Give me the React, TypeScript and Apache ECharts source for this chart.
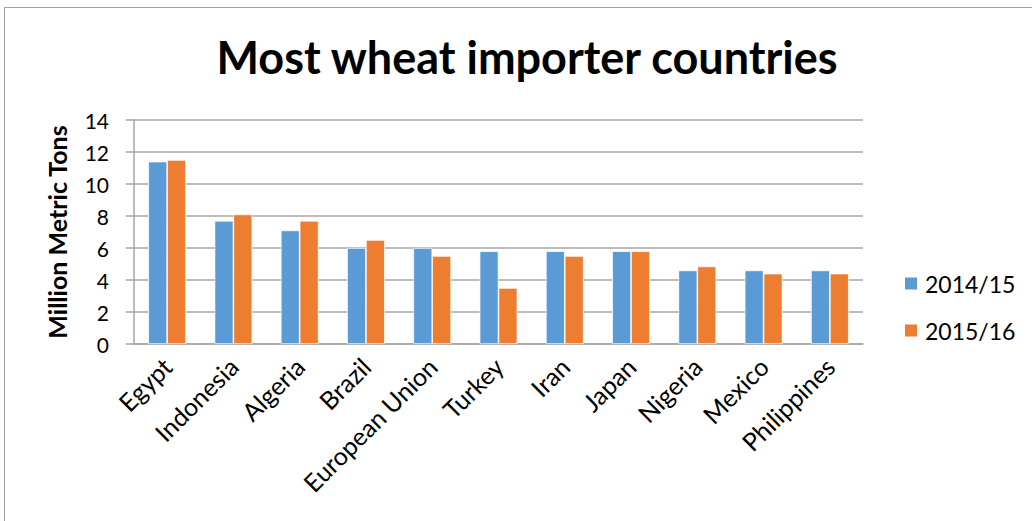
import React, { useEffect, useRef } from "react";
import * as echarts from "echarts";

const categories = [
  "Egypt",
  "Indonesia",
  "Algeria",
  "Brazil",
  "European Union",
  "Turkey",
  "Iran",
  "Japan",
  "Nigeria",
  "Mexico",
  "Philippines",
];
const series2014 = [11.4, 7.7, 7.1, 6.0, 6.0, 5.8, 5.8, 5.8, 4.6, 4.6, 4.6];
const series2015 = [11.5, 8.1, 7.7, 6.5, 5.5, 3.5, 5.5, 5.8, 4.85, 4.4, 4.4];
const seriesNames = ["2014/15", "2015/16"];
const titleText = "Most wheat importer countries";
const yAxisName = "Million Metric Tons";

const FONT = "Lato, 'Open Sans', sans-serif";

export default function App() {
  const ref = useRef<HTMLDivElement>(null);
  useEffect(() => {
    if (!ref.current) return;
    const chart = echarts.init(ref.current, null, { renderer: "svg" });
    chart.setOption({
      animation: false,
      backgroundColor: "#ffffff",
      textStyle: { fontFamily: FONT },
      title: {
        text: titleText,
        left: 522,
        textAlign: "center",
        top: 29,
        textStyle: {
          fontFamily: FONT,
          fontWeight: "bold",
          fontSize: 45,
          color: "#000000",
        },
      },
      graphic: [
        {
          type: "polyline",
          shape: {
            points: [
              [4.5, 530],
              [4.5, 7.5],
              [1040, 7.5],
            ],
          },
          style: { stroke: "#a0a0a0", lineWidth: 1, fill: "none" },
        },
      ],
      legend: {
        orient: "vertical",
        left: 898,
        top: 267,
        itemWidth: 14,
        itemHeight: 14,
        itemGap: 24,
        icon: "rect",
        textStyle: { fontFamily: FONT, fontSize: 23, color: "#000000", padding: [0, 0, 0, 2] },
        data: seriesNames,
      },
      grid: { left: 134, right: 169, top: 120, bottom: 177, containLabel: false },
      xAxis: {
        type: "category",
        data: categories,
        axisLine: { lineStyle: { color: "#a6a6a6", width: 1.5 } },
        axisTick: { show: false },
        axisLabel: {
          rotate: 45,
          interval: 0,
          margin: 18,
          fontFamily: FONT,
          fontSize: 25,
          color: "#000000",
        },
      },
      yAxis: {
        type: "value",
        min: 0,
        max: 14,
        interval: 2,
        name: yAxisName,
        nameLocation: "middle",
        nameGap: 65,
        nameTextStyle: { fontFamily: FONT, fontWeight: "bold", fontSize: 25, color: "#000000" },
        axisLine: { show: true, lineStyle: { color: "#a6a6a6", width: 1.5 } },
        axisTick: { show: true, length: 8, lineStyle: { color: "#a6a6a6", width: 1.5 } },
        axisLabel: { fontFamily: FONT, fontSize: 21, color: "#000000", margin: 25 },
        splitLine: { lineStyle: { color: "#a6a6a6", width: 1.5 } },
      },
      series: [
        {
          name: seriesNames[0],
          type: "bar",
          data: series2014,
          barGap: "0%",
          barCategoryGap: "43%",
          itemStyle: { color: "#5b9bd5", borderColor: "#ffffff", borderWidth: 0.7 },
        },
        {
          name: seriesNames[1],
          type: "bar",
          data: series2015,
          barGap: "0%",
          barCategoryGap: "43%",
          itemStyle: { color: "#ed7d31", borderColor: "#ffffff", borderWidth: 0.7 },
        },
      ],
    });
    return () => chart.dispose();
  }, []);
  return (
    <div
      ref={ref}
      style={{ position: "absolute", left: 0, top: 0, width: 1032, height: 521 }}
    />
  );
}
